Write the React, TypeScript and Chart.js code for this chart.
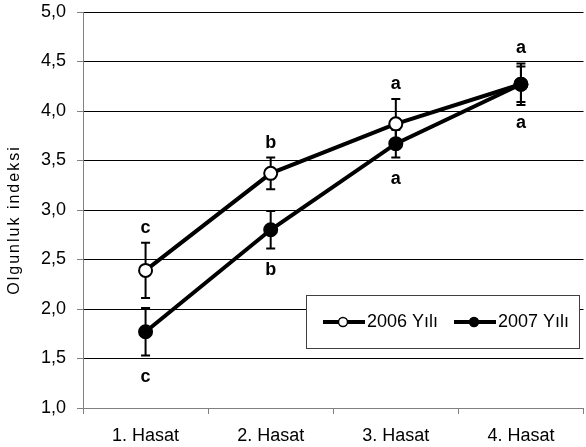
import React, { useEffect, useRef } from "react";
import { Chart, registerables } from "chart.js";

Chart.register(...registerables);

const categories = ["1. Hasat", "2. Hasat", "3. Hasat", "4. Hasat"];
const seriesNames = ["2006 Yılı", "2007 Yılı"];
const values2006 = [2.39, 3.37, 3.87, 4.27];
const values2007 = [1.77, 2.8, 3.67, 4.27];
const errors2006 = [0.28, 0.16, 0.25, 0.21];
const errors2007 = [0.24, 0.19, 0.14, 0.18];
const letters2006 = ["c", "b", "a", "a"];
const letters2007 = ["c", "b", "a", "a"];
const yMin = 1.0;
const yMax = 5.0;
const yStep = 0.5;
const yAxisTitle = "Olgunluk indeksi";

const FONT = "'Liberation Sans', Arial, sans-serif";

const overlayPlugin = {
  id: "overlay",
  beforeDatasetsDraw(chart: any) {
    const ctx = chart.ctx;
    const y = chart.scales.y;
    const errs = [errors2006, errors2007];
    const vals = [values2006, values2007];
    ctx.save();
    ctx.strokeStyle = "#000";
    ctx.lineWidth = 2;
    for (let d = 0; d < 2; d++) {
      const meta = chart.getDatasetMeta(d);
      meta.data.forEach((pt: any, i: number) => {
        const top = y.getPixelForValue(vals[d][i] + errs[d][i]);
        const bot = y.getPixelForValue(vals[d][i] - errs[d][i]);
        const x = pt.x;
        ctx.beginPath();
        ctx.moveTo(x, top);
        ctx.lineTo(x, bot);
        ctx.moveTo(x - 4.5, top);
        ctx.lineTo(x + 4.5, top);
        ctx.moveTo(x - 4.5, bot);
        ctx.lineTo(x + 4.5, bot);
        ctx.stroke();
      });
    }
    ctx.restore();
  },
  afterDatasetsDraw(chart: any) {
    const ctx = chart.ctx;
    const y = chart.scales.y;
    ctx.save();
    // significance letters
    ctx.fillStyle = "#000";
    ctx.font = `bold 18px ${FONT}`;
    ctx.textAlign = "center";
    ctx.textBaseline = "alphabetic";
    const m0 = chart.getDatasetMeta(0);
    const m1 = chart.getDatasetMeta(1);
    m0.data.forEach((pt: any, i: number) => {
      const top = y.getPixelForValue(values2006[i] + errors2006[i]);
      ctx.fillText(letters2006[i], pt.x, top - 10);
    });
    m1.data.forEach((pt: any, i: number) => {
      const bot = y.getPixelForValue(values2007[i] - errors2007[i]);
      ctx.fillText(letters2007[i], pt.x, bot + 26);
    });

    // legend box
    const lx = 306, ly = 295, lw = 273, lh = 53;
    ctx.fillStyle = "#fff";
    ctx.fillRect(lx, ly, lw, lh);
    ctx.strokeStyle = "#404040";
    ctx.lineWidth = 1;
    ctx.strokeRect(lx + 0.5, ly + 0.5, lw, lh);
    const cy = ly + 27;
    const entries = [
      { x0: 323, fill: "#fff", name: seriesNames[0] },
      { x0: 454, fill: "#000", name: seriesNames[1] },
    ];
    entries.forEach((e) => {
      ctx.strokeStyle = "#000";
      ctx.lineWidth = 4;
      ctx.beginPath();
      ctx.moveTo(e.x0, cy);
      ctx.lineTo(e.x0 + 42, cy);
      ctx.stroke();
      ctx.beginPath();
      ctx.arc(e.x0 + 20, cy, 4.5, 0, Math.PI * 2);
      ctx.fillStyle = e.fill;
      ctx.fill();
      ctx.lineWidth = 1.5;
      ctx.stroke();
      ctx.fillStyle = "#000";
      ctx.font = `18px ${FONT}`;
      ctx.textAlign = "left";
      ctx.textBaseline = "middle";
      ctx.fillText(e.name, e.x0 + 44, cy);
    });

    // y-axis title
    ctx.translate(15, 220);
    ctx.rotate(-Math.PI / 2);
    ctx.font = `16px ${FONT}`;
    (ctx as any).letterSpacing = "2px";
    ctx.textAlign = "center";
    ctx.textBaseline = "middle";
    ctx.fillStyle = "#000";
    ctx.fillText(yAxisTitle, 0, 0);
    ctx.restore();
  },
};

export default function App() {
  const ref = useRef<HTMLCanvasElement | null>(null);

  useEffect(() => {
    if (!ref.current) return;
    const chart = new Chart(ref.current, {
      type: "line",
      data: {
        labels: categories,
        datasets: [
          {
            label: seriesNames[0],
            data: values2006,
            order: 2,
            borderColor: "#000",
            borderWidth: 4,
            pointRadius: 6.5,
            pointBorderWidth: 2,
            pointBackgroundColor: "#fff",
            pointBorderColor: "#000",
            tension: 0,
          },
          {
            label: seriesNames[1],
            data: values2007,
            order: 1,
            borderColor: "#000",
            borderWidth: 4,
            pointRadius: 6.5,
            pointBorderWidth: 2,
            pointBackgroundColor: "#000",
            pointBorderColor: "#000",
            tension: 0,
          },
        ],
      },
      options: {
        animation: false,
        responsive: false,
        layout: { padding: { top: 12, right: 1, left: 0, bottom: 0 } },
        plugins: {
          legend: { display: false },
          tooltip: { enabled: false },
        },
        scales: {
          x: {
            type: "category",
            offset: true,
            grid: {
              offset: true,
              drawOnChartArea: false,
              tickLength: 6,
              tickColor: "#808080",
            },
            border: { color: "#808080", width: 1 },
            ticks: {
              color: "#000",
              font: { family: FONT, size: 18 },
              padding: 11,
              maxRotation: 0,
            },
            afterFit(scale: any) {
              scale.height = 39;
              scale.paddingLeft = 0;
              scale.paddingRight = 0;
            },
          },
          y: {
            min: yMin,
            max: yMax,
            grid: {
              color: (c: any) => (c.tick && c.tick.value === yMin ? "#808080" : "#000"),
              tickColor: "#808080",
              tickLength: 6,
              lineWidth: 1,
            },
            border: { color: "#808080", width: 1 },
            ticks: {
              stepSize: yStep,
              color: "#000",
              font: { family: FONT, size: 18 },
              padding: 11,
              callback: (v: any) => Number(v).toFixed(1).replace(".", ","),
            },
            afterFit(scale: any) {
              scale.width = 83;
              scale.paddingTop = 0;
              scale.paddingBottom = 0;
            },
          },
        },
      },
      plugins: [overlayPlugin],
    });
    return () => chart.destroy();
  }, []);

  return (
    <div
      style={{
        position: "fixed",
        left: 0,
        top: 0,
        width: 586,
        height: 447,
        overflow: "hidden",
        background: "#fff",
      }}
    >
      <canvas ref={ref} width={592} height={447} style={{ display: "block" }} />
    </div>
  );
}
